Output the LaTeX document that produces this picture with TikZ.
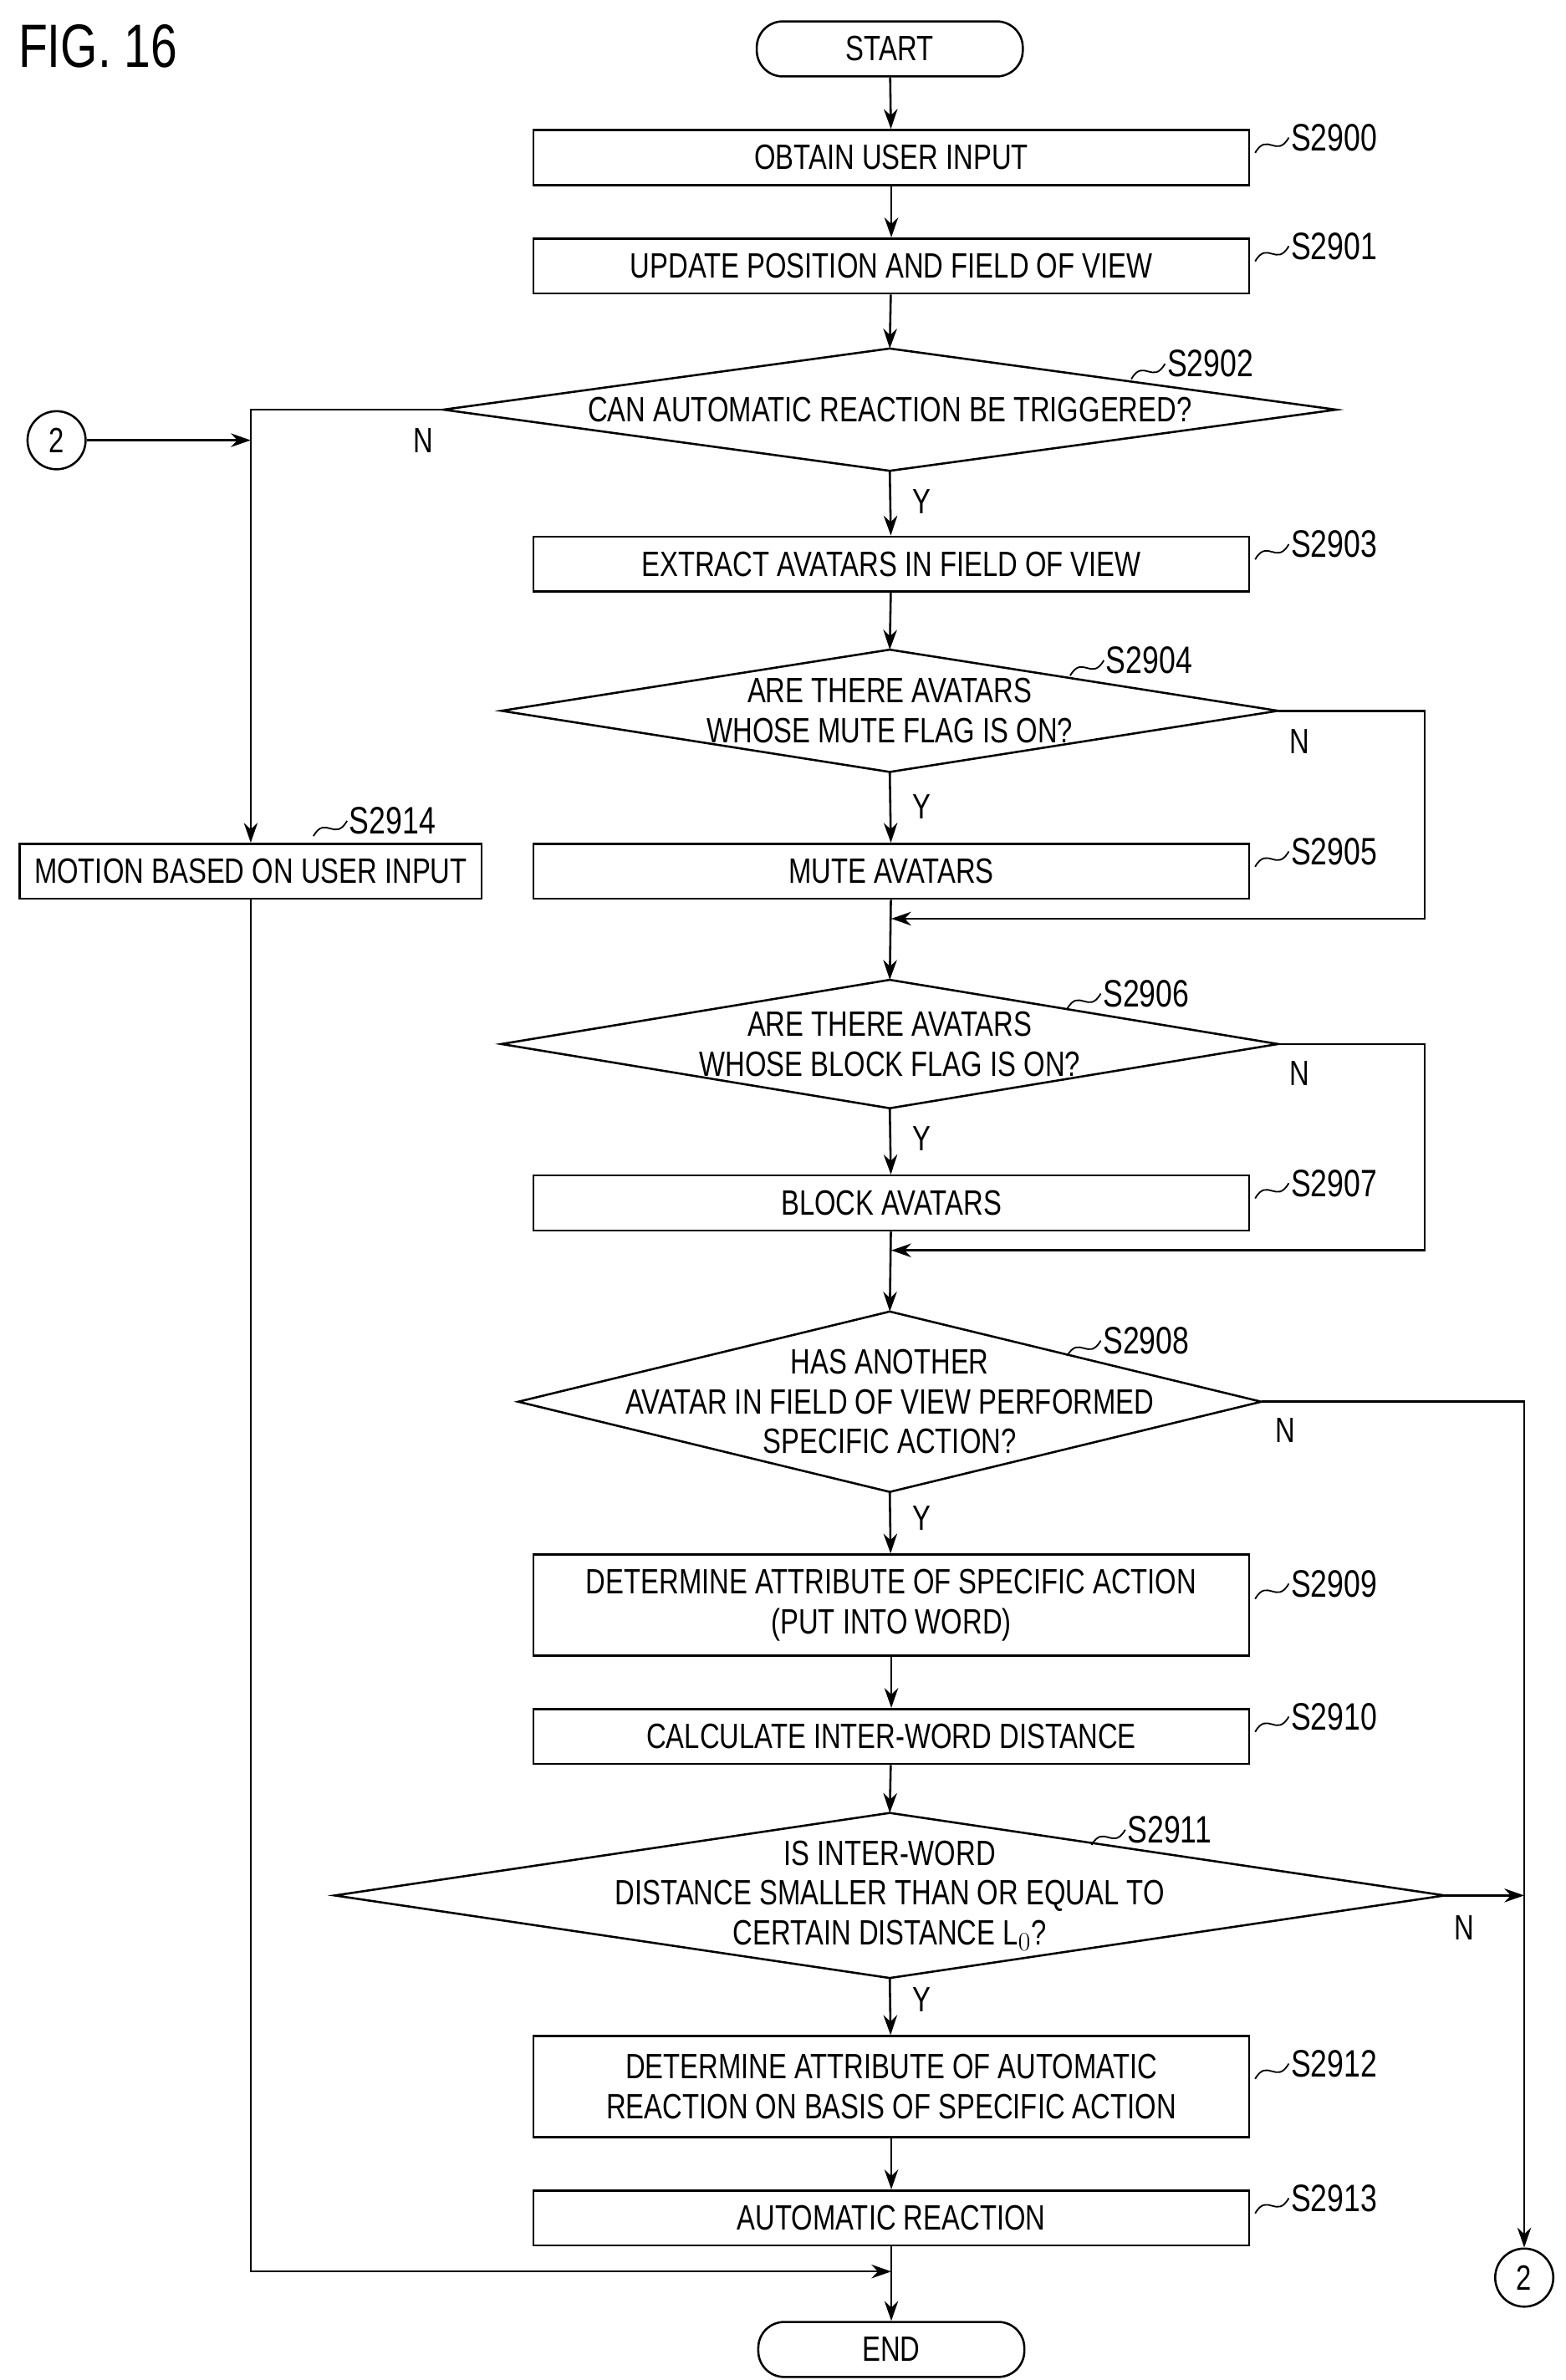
\documentclass[tikz,border=0pt]{standalone}
\usepackage{fontspec}
\setmainfont{Liberation Sans}[FakeStretch=0.78]
\usetikzlibrary{shapes.geometric,arrows.meta}
\begin{document}
\begin{tikzpicture}[x=1pt,y=-1pt,line width=1.4pt,font=\fontsize{23}{26}\selectfont,
 box/.style={draw,rectangle,minimum width=468pt,minimum height=36pt,inner sep=0pt,align=center},
 term/.style={draw,rectangle,rounded corners=17pt,minimum width=174pt,minimum height=36pt,inner sep=0pt},
 arr/.style={-{Stealth[length=13pt,width=9pt]}},
 lab/.style={anchor=west,inner sep=1pt,font=\fontsize{25}{27}\selectfont},
 yn/.style={inner sep=0pt}]
\newcommand{\dianode}[6]{%
 \node[align=center,inner sep=0pt] (#1) at (#2,#3) {#6};
 \coordinate (#1-n) at (#2,#3-#5); \coordinate (#1-s) at (#2,#3+#5);
 \coordinate (#1-w) at (#2-#4,#3); \coordinate (#1-e) at (#2+#4,#3);
 \draw (#1-n) -- (#1-e) -- (#1-s) -- (#1-w) -- cycle;}
\useasboundingbox (0,0) rectangle (1024,1557);
\node[anchor=west,font=\fontsize{40}{42}\selectfont] (fig) at (8,30) {FIG. 16};
\node[term] (start) at (582,32) {START};
\node[box] (s0) at (583,103) {OBTAIN USER INPUT};
\node[box] (s1) at (583,174) {UPDATE POSITION AND FIELD OF VIEW};
\dianode{s2}{582}{268}{292}{40}{CAN AUTOMATIC REACTION BE TRIGGERED?}
\node[box] (s3) at (583,369) {EXTRACT AVATARS IN FIELD OF VIEW};
\dianode{s4}{582}{465}{254}{40}{ARE THERE AVATARS\\WHOSE MUTE FLAG IS ON?}
\node[box] (s5) at (583,570) {MUTE AVATARS};
\node[box,minimum width=302pt] (s14) at (164,570) {MOTION BASED ON USER INPUT};
\dianode{s6}{582}{683}{254}{42}{ARE THERE AVATARS\\WHOSE BLOCK FLAG IS ON?}
\node[box] (s7) at (583,787) {BLOCK AVATARS};
\dianode{s8}{582}{917}{243}{59}{HAS ANOTHER\\AVATAR IN FIELD OF VIEW PERFORMED\\SPECIFIC ACTION?}
\node[box,minimum height=66pt] (s9) at (583,1050) {DETERMINE ATTRIBUTE OF SPECIFIC ACTION\\(PUT INTO WORD)};
\node[box] (s10) at (583,1136) {CALCULATE INTER-WORD DISTANCE};
\dianode{s11}{582}{1240}{363}{54}{IS INTER-WORD\\DISTANCE SMALLER THAN OR EQUAL TO\\CERTAIN DISTANCE L$_0$?}
\node[box,minimum height=66pt] (s12) at (583,1365) {DETERMINE ATTRIBUTE OF AUTOMATIC\\REACTION ON BASIS OF SPECIFIC ACTION};
\node[box] (s13) at (583,1451) {AUTOMATIC REACTION};
\node[term] (end) at (583,1537) {END};
\node[draw,circle,minimum size=38pt,inner sep=0pt] (c1) at (37,288) {2};
\node[draw,circle,minimum size=38pt,inner sep=0pt] (c2) at (997,1490) {2};
% main flow
\draw[arr] (start) -- (s0);
\draw[arr] (s0) -- (s1);
\draw[arr] (s1) -- (s2-n);
\draw[arr] (s2-s) -- (s3);
\draw[arr] (s3) -- (s4-n);
\draw[arr] (s4-s) -- (s5);
\draw[arr] (s5) -- (s6-n);
\draw[arr] (s6-s) -- (s7);
\draw[arr] (s7) -- (s8-n);
\draw[arr] (s8-s) -- (s9);
\draw[arr] (s9) -- (s10);
\draw[arr] (s10) -- (s11-n);
\draw[arr] (s11-s) -- (s12);
\draw[arr] (s12) -- (s13);
\draw[arr] (s13) -- (end);
% branches
\coordinate (j1) at (164,288);
\draw[arr] (s2-w) -| (s14.north);
\draw[arr] (c1) -- (j1);
\coordinate (m1) at (583,601);
\draw[arr] (s4-e) -| (932,601) -- (m1);
\coordinate (m2) at (583,818);
\draw[arr] (s6-e) -| (932,818) -- (m2);
\draw[arr] (s8-e) -| (c2.north);
\coordinate (j2) at (997,1240);
\draw[arr] (s11-e) -- (j2);
\coordinate (m3) at (583,1486);
\draw[arr] (s14.south) |- (m3);
% Y/N
\node[yn] at (277,288) {N};
\node[yn] at (603,328) {Y};
\node[yn] at (850,485) {N};
\node[yn] at (603,528) {Y};
\node[yn] at (850,702) {N};
\node[yn] at (603,745) {Y};
\node[yn] at (841,936) {N};
\node[yn] at (603,993) {Y};
\node[yn] at (958,1261) {N};
\node[yn] at (603,1308) {Y};
% step labels
\newcommand{\sqlab}[3]{\draw[line width=1pt] (#1,#2) .. controls (#1+8,#2-14) and (#1+14,#2+4) .. (#1+22,#2-10) node[lab] {#3};}
\sqlab{821}{100}{S2900}
\sqlab{821}{171}{S2901}
\sqlab{740}{248}{S2902}
\sqlab{821}{366}{S2903}
\sqlab{700}{442}{S2904}
\sqlab{821}{567}{S2905}
\sqlab{205}{547}{S2914}
\sqlab{698}{660}{S2906}
\sqlab{821}{784}{S2907}
\sqlab{698}{887}{S2908}
\sqlab{821}{1046}{S2909}
\sqlab{821}{1133}{S2910}
\sqlab{714}{1207}{S2911}
\sqlab{821}{1360}{S2912}
\sqlab{821}{1448}{S2913}
\end{tikzpicture}
\end{document}
